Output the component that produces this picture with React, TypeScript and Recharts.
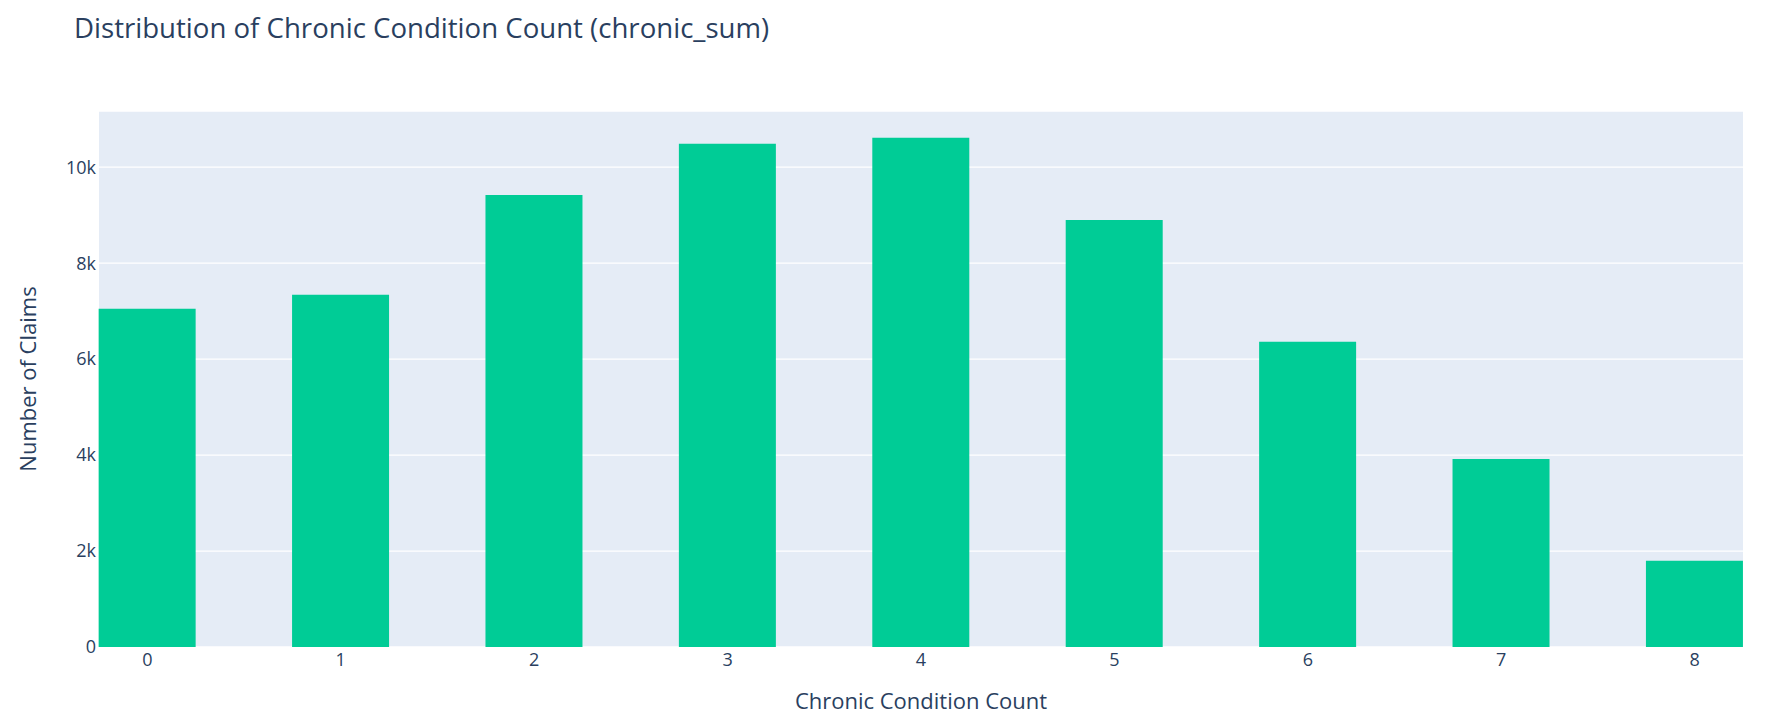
import { BarChart, Bar, XAxis, YAxis, CartesianGrid } from "recharts";

const chronicCounts = [0, 1, 2, 3, 4, 5, 6, 7, 8];
const claimCounts = [7050, 7340, 9420, 10490, 10610, 8900, 6360, 3920, 1800];
const yTicks = [0, 2000, 4000, 6000, 8000, 10000];

const data = chronicCounts.map((c, i) => ({ count: c, claims: claimCounts[i] }));

const TEXT = "#2a3f5f";
const FONT = '"Open Sans", verdana, arial, sans-serif';

export default function App() {
  return (
    <div style={{ position: "relative", width: 1783, height: 721, fontFamily: FONT, color: TEXT }}>
      <style>{`body{margin:0}`}</style>
      <div
        style={{
          position: "absolute",
          left: 74,
          top: 12,
          fontSize: 27.6,
          lineHeight: "30px",
          whiteSpace: "nowrap",
        }}
      >
        Distribution of Chronic Condition Count (chronic_sum)
      </div>

      <BarChart
        width={1783}
        height={721}
        data={data}
        margin={{ top: 111, right: 40, bottom: 0, left: 0 }}
      >
        <CartesianGrid
          fill="#E5ECF6"
          stroke="#ffffff"
          strokeWidth={1.3}
          vertical={false}
        />
        <XAxis
          dataKey="count"
          type="number"
          domain={[-0.25, 8.25]}
          ticks={chronicCounts}
          height={74}
          axisLine={false}
          tickLine={false}
          tickSize={0}
          tickMargin={6}
          tick={{ fill: TEXT, fontSize: 18, fontFamily: FONT }}
        />
        <YAxis
          type="number"
          domain={[0, 11170]}
          ticks={yTicks}
          width={99}
          axisLine={false}
          tickLine={false}
          tickSize={0}
          tickMargin={3}
          tickFormatter={(v) => (v === 0 ? "0" : `${v / 1000}k`)}
          tick={{ fill: TEXT, fontSize: 18, fontFamily: FONT }}
        />
        <Bar dataKey="claims" fill="#00CC96" barSize={97} isAnimationActive={false} />
      </BarChart>

      <div
        style={{
          position: "absolute",
          left: 27,
          top: 379,
          transform: "translate(-50%, -50%) rotate(-90deg)",
          fontSize: 22,
          whiteSpace: "nowrap",
        }}
      >
        Number of Claims
      </div>
      <div
        style={{
          position: "absolute",
          left: 921,
          top: 700,
          transform: "translate(-50%, -50%)",
          fontSize: 22,
          whiteSpace: "nowrap",
        }}
      >
        Chronic Condition Count
      </div>
    </div>
  );
}
